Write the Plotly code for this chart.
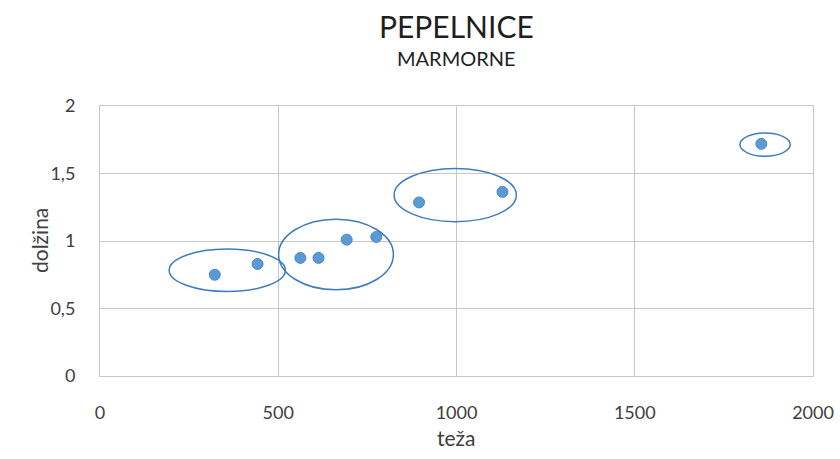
import plotly.graph_objects as go

# Data
teza = [322, 442, 562, 613, 692, 775, 895, 1129, 1855]
dolzina = [0.75, 0.83, 0.875, 0.875, 1.01, 1.03, 1.286, 1.364, 1.72]

# ellipse extents (x0, x1, y0, y1) around each circled group, in data units
ellipses = [
    (194, 520, 0.626, 0.941),
    (501, 823, 0.638, 1.162),
    (825, 1168, 1.143, 1.537),
    (1795, 1936, 1.628, 1.80),
]

x_ticks = [0, 500, 1000, 1500, 2000]
y_ticks = [0, 0.5, 1, 1.5, 2]

font_family = "Lato, 'Open Sans', sans-serif"
tick_color = "#404040"

fig = go.Figure()
fig.add_trace(go.Scatter(
    x=teza, y=dolzina, mode="markers",
    marker=dict(size=11, color="#5B9BD5", line=dict(width=1, color="#4A89C8")),
    showlegend=False,
))

for (x0, x1, y0, y1) in ellipses:
    fig.add_shape(type="circle", xref="x", yref="y", x0=x0, x1=x1, y0=y0, y1=y1,
                  line=dict(color="#3C7DC0", width=1.5))

fig.update_layout(
    width=840, height=459,
    margin=dict(l=100, r=27, t=106, b=83, autoexpand=False),
    paper_bgcolor="white", plot_bgcolor="white",
    separators=",.",
    font=dict(family=font_family, color=tick_color),
    annotations=[
        dict(text="PEPELNICE", xref="paper", yref="paper", x=0.5, y=1, yshift=80,
             showarrow=False, font=dict(size=30, color="#1f1f1f", family=font_family),
             xanchor="center", yanchor="middle"),
        dict(text="MARMORNE", xref="paper", yref="paper", x=0.5, y=1, yshift=48,
             showarrow=False, font=dict(size=20, color="#1f1f1f", family=font_family),
             xanchor="center", yanchor="middle"),
        dict(text="teža", xref="paper", yref="paper", x=0.5, y=0, yshift=-61,
             showarrow=False, font=dict(size=21, color=tick_color, family=font_family),
             xanchor="center", yanchor="middle"),
        dict(text="dolžina", xref="paper", yref="paper", x=0, y=0.5, xshift=-61,
             textangle=-90, showarrow=False,
             font=dict(size=21, color=tick_color, family=font_family),
             xanchor="center", yanchor="middle"),
    ],
    xaxis=dict(
        range=[0, 2000], tickvals=x_ticks, ticktext=[str(v) for v in x_ticks],
        showgrid=True, gridcolor="#C8C8C8", gridwidth=1,
        showline=True, linecolor="#C8C8C8", mirror=True, zeroline=False,
        ticks="", ticklabelstandoff=20, automargin=False,
        tickfont=dict(size=18, color=tick_color),
    ),
    yaxis=dict(
        range=[0, 2], tickvals=y_ticks,
        showgrid=True, gridcolor="#C8C8C8", gridwidth=1,
        showline=True, linecolor="#C8C8C8", mirror=True, zeroline=False,
        ticks="", ticklabelstandoff=20, automargin=False,
        tickfont=dict(size=18, color=tick_color),
    ),
)

fig.write_html("out.html", config={"displayModeBar": False},
               post_script="document.body.style.margin='0';document.body.style.padding='0';")
